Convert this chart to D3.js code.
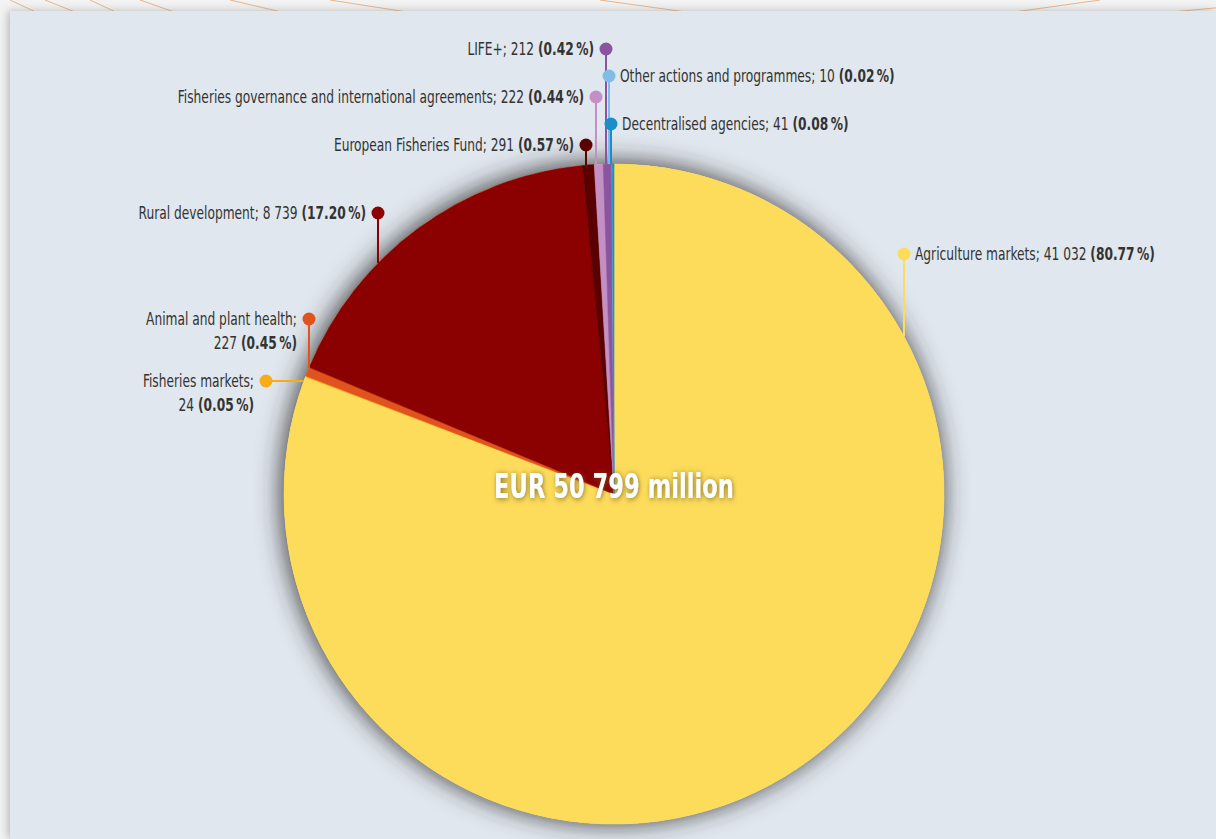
<!DOCTYPE html>
<html>
<head>
<meta charset="utf-8">
<script src="https://cdn.jsdelivr.net/npm/d3@7"></script>
<style>
  html, body { margin: 0; padding: 0; background: #f2f2f2; }
  svg { display: block; }
  text { font-family: "DejaVu Sans Condensed", "DejaVu Sans", sans-serif; font-stretch: condensed; }
</style>
</head>
<body>
<div id="chart"></div>
<script>
// data (EUR million)
const categories = [
  "Agriculture markets",
  "Fisheries markets",
  "Animal and plant health",
  "Rural development",
  "European Fisheries Fund",
  "Fisheries governance and international agreements",
  "LIFE+",
  "Other actions and programmes",
  "Decentralised agencies"
];
const amounts = [41032, 24, 227, 8739, 291, 222, 212, 10, 41];
const amountLabels = ["41 032", "24", "227", "8 739", "291", "222", "212", "10", "41"];
const shares = ["80.77", "0.05", "0.45", "17.20", "0.57", "0.44", "0.42", "0.02", "0.08"];
const colors = ["#fddc5c", "#f8ac1a", "#e0521e", "#8b0000", "#5a0000", "#c48fc4", "#8a55a0", "#80bce6", "#1a8ec8"];
const totalLabel = "EUR 50 799 million";

// label placement (dot position, text side, line break)
const labelLayout = [
  { x: 904, y: 254, side: "right", lead: "v" },
  { x: 266, y: 381, side: "left", lead: "h", wrap: true },
  { x: 309, y: 319, side: "left", lead: "v", wrap: true },
  { x: 378, y: 213, side: "left", lead: "v" },
  { x: 586, y: 145, side: "left", lead: "v" },
  { x: 596, y: 97, side: "left", lead: "v" },
  { x: 606, y: 49, side: "left", lead: "v" },
  { x: 609, y: 76, side: "right", lead: "v" },
  { x: 611, y: 124, side: "right", lead: "v" }
];

const width = 1216, height = 839;
const cx = 614, cy = 494, radius = 330;
const squeeze = 0.8;      // horizontal squeeze to mimic the condensed face
const labelSize = 17;

const svg = d3.select("#chart").append("svg")
  .attr("width", width)
  .attr("height", height);

const defs = svg.append("defs");
const sh = defs.append("filter").attr("id", "pieShadow")
  .attr("x", "-20%").attr("y", "-20%").attr("width", "140%").attr("height", "140%");
sh.append("feDropShadow").attr("dx", -2).attr("dy", -1)
  .attr("stdDeviation", 13).attr("flood-color", "#2a2a2a").attr("flood-opacity", 0.95);

const panelSh = defs.append("filter").attr("id", "panelShadow")
  .attr("x", "-5%").attr("y", "-5%").attr("width", "110%").attr("height", "110%");
panelSh.append("feDropShadow").attr("dx", -2).attr("dy", 0)
  .attr("stdDeviation", 4).attr("flood-color", "#777").attr("flood-opacity", 0.5);

const txtSh = defs.append("filter").attr("id", "textShadow")
  .attr("x", "-20%").attr("y", "-40%").attr("width", "140%").attr("height", "180%");
txtSh.append("feDropShadow").attr("dx", 1).attr("dy", 1)
  .attr("stdDeviation", 3).attr("flood-color", "#6b5a20").attr("flood-opacity", 0.8);

// page background with decorative lines on top strip
svg.append("rect").attr("width", width).attr("height", height).attr("fill", "#f3f3f3");
const deco = svg.append("g").attr("stroke", "#e9b48a").attr("stroke-width", 1).attr("fill", "none");
[[10, 0, 40, 14], [45, 0, 80, 14], [90, 0, 120, 14], [140, 0, 180, 14], [230, 0, 290, 14],
 [330, 0, 420, 14], [600, 0, 700, 14], [1100, 0, 1000, 14], [1300, 0, 1150, 14], [1420, 0, 1200, 14]]
  .forEach(l => deco.append("line").attr("x1", l[0]).attr("y1", l[1]).attr("x2", l[2]).attr("y2", l[3]));

svg.append("rect")
  .attr("x", 10).attr("y", 11)
  .attr("width", width - 10).attr("height", height - 11)
  .attr("fill", "#e1e7ee")
  .attr("filter", "url(#panelShadow)");

// pie
const pie = d3.pie().sort(null).value(d => d)(amounts);
const arc = d3.arc().innerRadius(0).outerRadius(radius);

const g = svg.append("g").attr("transform", `translate(${cx},${cy})`);
g.append("circle").attr("r", radius).attr("fill", colors[0]).attr("filter", "url(#pieShadow)");
g.selectAll("path.slice")
  .data(pie)
  .enter()
  .append("path")
  .attr("class", "slice")
  .attr("d", arc)
  .attr("fill", (d, i) => colors[i])
  .attr("stroke", (d, i) => colors[i])
  .attr("stroke-width", 0.6);

function label(parent, x, y, anchor) {
  return parent.append("text")
    .attr("transform", `translate(${x},${y}) scale(${squeeze},1)`)
    .attr("dy", "0.35em")
    .attr("text-anchor", anchor)
    .attr("font-size", labelSize)
    .attr("fill", "#333");
}

// leaders and labels
const lab = svg.append("g");
labelLayout.forEach(function (p, i) {
  let x2, y2;
  if (p.lead === "v") {
    const dx = p.x - cx;
    x2 = p.x;
    y2 = cy - Math.sqrt(radius * radius - dx * dx);
  } else {
    const dy = p.y - cy;
    y2 = p.y;
    x2 = cx - Math.sqrt(radius * radius - dy * dy);
  }
  lab.append("line")
    .attr("x1", p.x).attr("y1", p.y)
    .attr("x2", x2).attr("y2", y2)
    .attr("stroke", colors[i]).attr("stroke-width", 2);
  lab.append("circle")
    .attr("cx", p.x).attr("cy", p.y).attr("r", 6.5)
    .attr("fill", colors[i]);

  const right = p.side === "right";
  const tx = right ? p.x + 11 : p.x - 12;
  const anchor = right ? "start" : "end";
  if (p.wrap) {
    label(lab, tx, p.y, anchor).text(categories[i] + ";");
    const t2 = label(lab, tx, p.y + 24, anchor);
    t2.append("tspan").text(amountLabels[i] + " ");
    t2.append("tspan").attr("font-weight", "bold").text("(" + shares[i] + "\u202F%)");
  } else {
    const t = label(lab, tx, p.y, anchor);
    t.append("tspan").text(categories[i] + "; " + amountLabels[i] + " ");
    t.append("tspan").attr("font-weight", "bold").text("(" + shares[i] + "\u202F%)");
  }
});

// total in centre
svg.append("text")
  .attr("transform", `translate(${cx},498) scale(0.74,1)`)
  .attr("text-anchor", "middle")
  .attr("font-size", 34)
  .attr("font-weight", "bold")
  .attr("fill", "#fff")
  .attr("filter", "url(#textShadow)")
  .text(totalLabel);
</script>
</body>
</html>
